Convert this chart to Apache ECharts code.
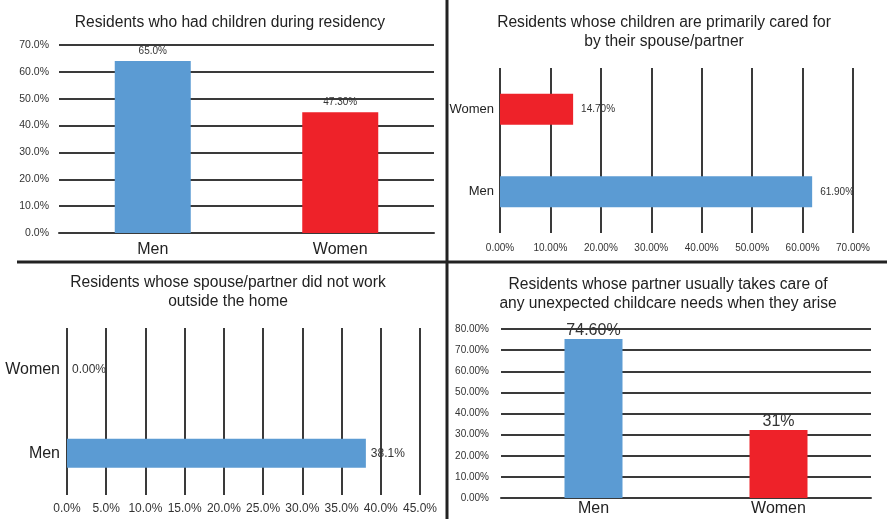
<!DOCTYPE html>
<html>
<head>
<meta charset="utf-8">
<script src="https://cdn.jsdelivr.net/npm/echarts@6/dist/echarts.min.js"></script>
<style>
  html, body { margin: 0; padding: 0; background: #fff; }
  #chart { width: 887px; height: 519px; }
</style>
</head>
<body>
<div id="chart"></div>
<script>
  // panel 1: residents who had children during residency
  var p1Cats = ['Men', 'Women'];
  var p1Values = [64, 45];
  var p1Labels = ['65.0%', '47.30%'];

  // panel 2: children primarily cared for by spouse/partner (horizontal, Men at bottom)
  var p2Cats = ['Men', 'Women'];
  var p2Values = [61.9, 14.5];
  var p2Labels = ['61.90%', '14.70%'];

  // panel 3: spouse/partner did not work outside the home
  var p3Cats = ['Men', 'Women'];
  var p3Values = [38.1, 0];
  var p3Labels = ['38.1%', '0.00%'];

  // panel 4: partner takes care of unexpected childcare needs
  var p4Cats = ['Men', 'Women'];
  var p4Values = [75.3, 32.2];
  var p4Labels = ['74.60%', '31%'];

  var BLUE = '#5b9bd3';
  var RED = '#ee2229';
  var LINE = '#3a3a3a';
  var FONT = 'Liberation Sans, Arial, sans-serif';

  function colorOf(name) { return name === 'Men' ? BLUE : RED; }

  function items(cats, values) {
    return values.map(function (v, i) {
      return { value: v, itemStyle: { color: colorOf(cats[i]) } };
    });
  }

  function labelFrom(arr) {
    return function (p) { return arr[p.dataIndex]; };
  }

  function pct(d) {
    return function (v) { return v.toFixed(d) + '%'; };
  }

  var chart = echarts.init(document.getElementById('chart'), null, { renderer: 'canvas' });

  var titleStyle = { fontFamily: FONT, fontSize: 15.6, fontWeight: 'normal', color: '#222', lineHeight: 19 };

  var option = {
    animation: false,
    backgroundColor: '#fff',
    textStyle: { fontFamily: FONT },
    title: [
      { text: 'Residents who had children during residency', left: 230, top: 13, textAlign: 'center', padding: 0, textStyle: titleStyle },
      { text: 'Residents whose children are primarily cared for\nby their spouse/partner', left: 664, top: 13, textAlign: 'center', padding: 0, textStyle: titleStyle },
      { text: 'Residents whose spouse/partner did not work\noutside the home', left: 228, top: 273, textAlign: 'center', padding: 0, textStyle: titleStyle },
      { text: 'Residents whose partner usually takes care of\nany unexpected childcare needs when they arise', left: 668, top: 275, textAlign: 'center', padding: 0, textStyle: titleStyle }
    ],
    graphic: [
      { type: 'line', shape: { x1: 447, y1: 0, x2: 447, y2: 519 }, style: { stroke: '#222', lineWidth: 3 } },
      { type: 'line', shape: { x1: 17, y1: 262, x2: 887, y2: 262 }, style: { stroke: '#222', lineWidth: 3 } }
    ],
    grid: [
      { left: 59, right: 453, top: 45, bottom: 286 },
      { left: 500, right: 34, top: 68, bottom: 286 },
      { left: 67, right: 467, top: 328, bottom: 24 },
      { left: 501, right: 16, top: 329, bottom: 21 }
    ],
    xAxis: [
      {
        gridIndex: 0, type: 'category', data: p1Cats,
        axisLine: { lineStyle: { color: LINE, width: 2 } }, axisTick: { show: false },
        axisLabel: { fontSize: 16, color: '#222', margin: 9 }
      },
      {
        gridIndex: 1, type: 'value', min: 0, max: 70, interval: 10,
        axisLine: { show: false }, axisTick: { show: false },
        splitLine: { lineStyle: { color: LINE, width: 2 } },
        axisLabel: { fontSize: 10, color: '#333', margin: 10, formatter: pct(2) }
      },
      {
        gridIndex: 2, type: 'value', min: 0, max: 45, interval: 5,
        axisLine: { show: false }, axisTick: { show: false },
        splitLine: { lineStyle: { color: LINE, width: 2 } },
        axisLabel: { fontSize: 12, color: '#333', margin: 8, formatter: pct(1) }
      },
      {
        gridIndex: 3, type: 'category', data: p4Cats,
        axisLine: { lineStyle: { color: LINE, width: 2 } }, axisTick: { show: false },
        axisLabel: { fontSize: 16, color: '#222', margin: 3 }
      }
    ],
    yAxis: [
      {
        gridIndex: 0, type: 'value', min: 0, max: 70, interval: 10,
        axisLine: { show: false }, axisTick: { show: false },
        splitLine: { lineStyle: { color: LINE, width: 2 } },
        axisLabel: { fontSize: 10.5, color: '#333', margin: 10, formatter: pct(1) }
      },
      {
        gridIndex: 1, type: 'category', data: p2Cats,
        axisLine: { show: false }, axisTick: { show: false },
        axisLabel: { fontSize: 13, color: '#222', margin: 6 }
      },
      {
        gridIndex: 2, type: 'category', data: p3Cats,
        axisLine: { show: false }, axisTick: { show: false },
        axisLabel: { fontSize: 16, color: '#222', margin: 7 }
      },
      {
        gridIndex: 3, type: 'value', min: 0, max: 80, interval: 10,
        axisLine: { show: false }, axisTick: { show: false },
        splitLine: { lineStyle: { color: LINE, width: 2 } },
        axisLabel: { fontSize: 10, color: '#333', margin: 12, formatter: pct(2) }
      }
    ],
    series: [
      {
        type: 'bar', xAxisIndex: 0, yAxisIndex: 0, barWidth: 76,
        data: items(p1Cats, p1Values),
        label: { show: true, position: 'top', distance: 5, fontSize: 10, color: '#333', formatter: labelFrom(p1Labels) }
      },
      {
        type: 'bar', xAxisIndex: 1, yAxisIndex: 1, barWidth: 31,
        data: items(p2Cats, p2Values),
        label: { show: true, position: 'right', distance: 8, fontSize: 10, color: '#333', formatter: labelFrom(p2Labels) }
      },
      {
        type: 'bar', xAxisIndex: 2, yAxisIndex: 2, barWidth: 29,
        data: items(p3Cats, p3Values),
        label: { show: true, position: 'right', distance: 5, fontSize: 12, color: '#333', formatter: labelFrom(p3Labels) }
      },
      {
        type: 'bar', xAxisIndex: 3, yAxisIndex: 3, barWidth: 58,
        data: items(p4Cats, p4Values),
        label: { show: true, position: 'top', distance: 0, fontSize: 16, color: '#333', formatter: labelFrom(p4Labels) }
      }
    ]
  };

  chart.setOption(option);
</script>
</body>
</html>
